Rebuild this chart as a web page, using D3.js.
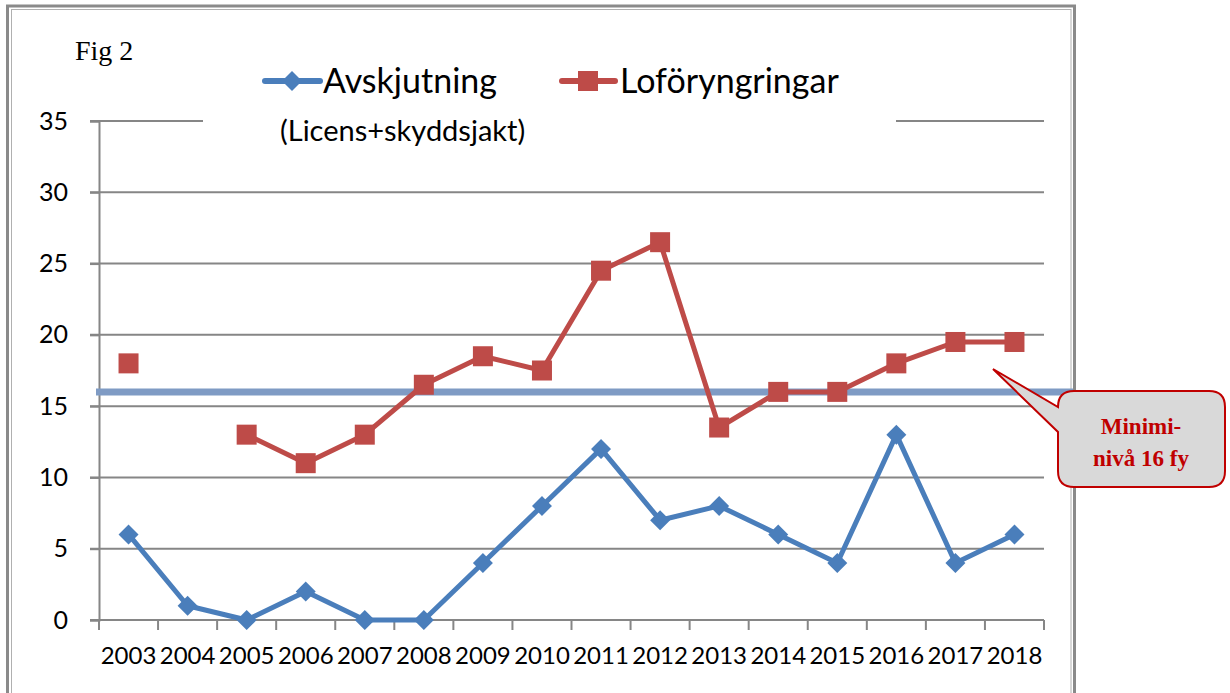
<!DOCTYPE html>
<html>
<head>
<meta charset="utf-8">
<script src="https://d3js.org/d3.v7.min.js"></script>
<style>
  body { margin: 0; background: #fff; }
  svg { display: block; }
</style>
</head>
<body>
<script>
// data
var years = ['2003','2004','2005','2006','2007','2008','2009','2010','2011','2012','2013','2014','2015','2016','2017','2018'];
var avskjutning = [6, 1, 0, 2, 0, 0, 4, 8, 12, 7, 8, 6, 4, 13, 4, 6];
var loforyngringar = [18, null, 13, 11, 13, 16.5, 18.5, 17.5, 24.5, 26.5, 13.5, 16, 16, 18, 19.5, 19.5];
var yTicks = [0, 5, 10, 15, 20, 25, 30, 35];
var miniLevel = 16;

var svgWidth = 1230, svgHeight = 693;
var blue = '#4a7ebb', red = '#be4b48', grid = '#868686';
var sans = 'Lato, "Open Sans", sans-serif';
var serif = '"Liberation Serif", "DejaVu Serif", serif';

var svg = d3.select('body').append('svg')
	.attr('width', svgWidth)
	.attr('height', svgHeight);

// double frame around the figure
svg.append('rect')
	.attr('x', 7.5).attr('y', 6).attr('width', 1067).attr('height', 700)
	.attr('fill', 'none').attr('stroke', '#8a8a8a').attr('stroke-width', 3);
svg.append('rect')
	.attr('x', 11.5).attr('y', 9.5).attr('width', 1059.5).attr('height', 700)
	.attr('fill', 'none').attr('stroke', '#b0b0b0').attr('stroke-width', 1);

var plot = {left: 99, right: 1044, top: 121, bottom: 620};

var x = d3.scaleBand().domain(years).range([plot.left, plot.right]);
var y = d3.scaleLinear().domain([0, 35]).range([plot.bottom, plot.top]);

// gridlines
svg.append('g').selectAll('line')
	.data(yTicks)
	.enter()
	.append('line')
	.attr('x1', 90)
	.attr('x2', plot.right)
	.attr('y1', function(d) { return y(d); })
	.attr('y2', function(d) { return y(d); })
	.attr('stroke', grid)
	.attr('stroke-width', 2);

// y axis
var yAxis = svg.append('g')
	.attr('transform', 'translate(' + plot.left + ',0)')
	.call(d3.axisLeft(y).tickValues(yTicks).tickSize(9).tickPadding(22));
yAxis.select('.domain').attr('stroke', grid).attr('stroke-width', 2);
yAxis.selectAll('.tick line').attr('stroke', grid).attr('stroke-width', 2);
yAxis.selectAll('.tick text')
	.attr('font-family', sans).attr('font-size', 25).attr('fill', '#000');

// x axis, ticks at band edges
var xAxis = svg.append('g')
	.attr('transform', 'translate(0,' + plot.bottom + ')');
xAxis.append('line')
	.attr('x1', plot.left).attr('x2', plot.right)
	.attr('stroke', grid).attr('stroke-width', 2);
xAxis.selectAll('line.tk')
	.data(years.concat(['end']))
	.enter()
	.append('line')
	.attr('class', 'tk')
	.attr('x1', function(d, i) { return plot.left + i * x.step(); })
	.attr('x2', function(d, i) { return plot.left + i * x.step(); })
	.attr('y1', 0).attr('y2', 10)
	.attr('stroke', grid).attr('stroke-width', 2);
xAxis.selectAll('text')
	.data(years)
	.enter()
	.append('text')
	.attr('x', function(d) { return x(d) + x.bandwidth() / 2; })
	.attr('y', 44)
	.attr('text-anchor', 'middle')
	.attr('font-family', sans).attr('font-size', 24)
	.text(function(d) { return d; });

// minimum level band
svg.append('line')
	.attr('x1', 96).attr('x2', 1073)
	.attr('y1', y(miniLevel)).attr('y2', y(miniLevel))
	.attr('stroke', '#7f9bc4').attr('stroke-width', 7);

function cx(d, i) { return x(years[i]) + x.bandwidth() / 2; }

// red series (2004 missing)
var redLine = d3.line()
	.defined(function(d) { return d !== null; })
	.x(cx)
	.y(function(d) { return y(d); });
svg.append('path')
	.datum(loforyngringar)
	.attr('d', redLine)
	.attr('fill', 'none').attr('stroke', red)
	.attr('stroke-width', 5).attr('stroke-linejoin', 'round');
svg.append('g').selectAll('rect')
	.data(loforyngringar.map(function(v, i) { return {v: v, i: i}; }).filter(function(d) { return d.v !== null; }))
	.enter()
	.append('rect')
	.attr('x', function(d) { return cx(d.v, d.i) - 10; })
	.attr('y', function(d) { return y(d.v) - 10; })
	.attr('width', 20).attr('height', 20)
	.attr('fill', red);

// blue series
var blueLine = d3.line().x(cx).y(function(d) { return y(d); });
svg.append('path')
	.datum(avskjutning)
	.attr('d', blueLine)
	.attr('fill', 'none').attr('stroke', blue)
	.attr('stroke-width', 5).attr('stroke-linejoin', 'round');
var diamond = 'M0,-10L10,0L0,10L-10,0Z';
svg.append('g').selectAll('path')
	.data(avskjutning)
	.enter()
	.append('path')
	.attr('d', diamond)
	.attr('transform', function(d, i) { return 'translate(' + cx(d, i) + ',' + y(d) + ')'; })
	.attr('fill', blue);

// legend box covers the top gridline
var legend = svg.append('g');
legend.append('rect')
	.attr('x', 203).attr('y', 52).attr('width', 693).attr('height', 100)
	.attr('fill', '#fff');
legend.append('line')
	.attr('x1', 265).attr('x2', 320).attr('y1', 81).attr('y2', 81)
	.attr('stroke', blue).attr('stroke-width', 6).attr('stroke-linecap', 'round');
legend.append('path')
	.attr('d', diamond)
	.attr('transform', 'translate(292,81)')
	.attr('fill', blue);
legend.append('text')
	.attr('x', 323).attr('y', 93)
	.attr('font-family', sans).attr('font-size', 34)
	.text('Avskjutning');
legend.append('line')
	.attr('x1', 562).attr('x2', 615).attr('y1', 81).attr('y2', 81)
	.attr('stroke', red).attr('stroke-width', 6).attr('stroke-linecap', 'round');
legend.append('rect')
	.attr('x', 578).attr('y', 71).attr('width', 20).attr('height', 20)
	.attr('fill', red);
legend.append('text')
	.attr('x', 620).attr('y', 93)
	.attr('font-family', sans).attr('font-size', 34)
	.text('Loföryngringar');
legend.append('text')
	.attr('x', 280).attr('y', 141)
	.attr('font-family', sans).attr('font-size', 29)
	.text('(Licens+skyddsjakt)');

svg.append('text')
	.attr('x', 75).attr('y', 60)
	.attr('font-family', serif).attr('font-size', 28)
	.text('Fig 2');

// callout
var callout = svg.append('g');
callout.append('path')
	.attr('d', 'M1074,391 H1209 Q1225,391 1225,407 V471 Q1225,487 1209,487 H1074 Q1058,487 1058,471 V432 L993,369 L1058,407 Q1058,391 1074,391 Z')
	.attr('fill', '#d9d9d9').attr('stroke', '#c00000').attr('stroke-width', 2);
callout.append('text')
	.attr('x', 1141).attr('y', 434)
	.attr('text-anchor', 'middle')
	.attr('font-family', serif).attr('font-weight', 'bold').attr('font-size', 23)
	.attr('fill', '#c00000')
	.text('Minimi-');
callout.append('text')
	.attr('x', 1141).attr('y', 466)
	.attr('text-anchor', 'middle')
	.attr('font-family', serif).attr('font-weight', 'bold').attr('font-size', 23)
	.attr('fill', '#c00000')
	.text('nivå 16 fy');
</script>
</body>
</html>
